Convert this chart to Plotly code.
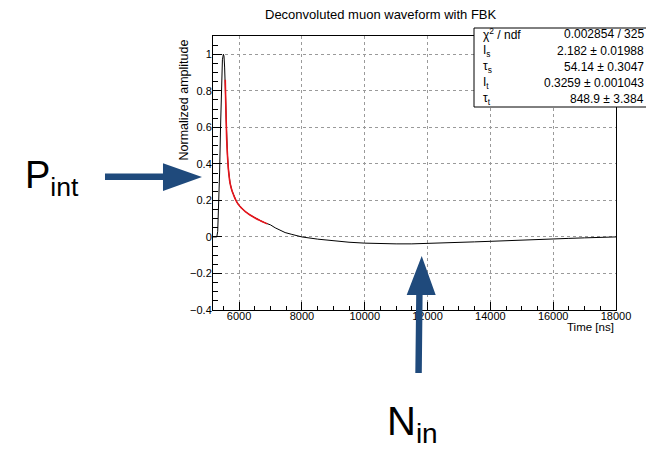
import plotly.graph_objects as go

# ---------------- data ----------------
time_ns = [5170, 5290, 5320, 5350, 5380, 5410, 5440, 5470, 5500, 5520, 5540, 5560,
           5575, 5590, 5607, 5630, 5661, 5712, 5770, 5820, 5900, 5980, 6080, 6190,
           6350, 6509, 6680, 6828, 7000, 7150, 7260, 7465, 7680, 8000, 8500, 9000,
           9500, 10000, 10500, 11000, 11500, 12000, 12500, 13000, 13500, 14000,
           14500, 15000, 15500, 16000, 16500, 17000, 17500, 18000]
amplitude = [0.0, 0.0, 0.03, 0.15, 0.35, 0.60, 0.85, 0.97, 1.0, 0.99, 0.93, 0.86,
             0.74, 0.64, 0.53, 0.45, 0.37, 0.296, 0.255, 0.232, 0.200, 0.177, 0.158, 0.140,
             0.120, 0.104, 0.089, 0.077, 0.066, 0.050, 0.040, 0.024, 0.014, 0.0, -0.012, -0.022,
             -0.029, -0.034, -0.037, -0.038, -0.038, -0.036, -0.033, -0.030, -0.027, -0.024,
             -0.020, -0.017, -0.014, -0.011, -0.008, -0.005, -0.003, 0.0]

fit_time = [5560, 5575, 5590, 5607, 5630, 5661, 5712, 5770, 5820, 5900, 5980, 6080,
            6190, 6350, 6509, 6680, 6828, 6900]
fit_amp = [0.86, 0.74, 0.64, 0.53, 0.45, 0.37, 0.296, 0.255, 0.232, 0.200, 0.177, 0.158,
           0.140, 0.120, 0.104, 0.089, 0.077, 0.072]

title_text = "Deconvoluted muon waveform with FBK"
x_title = "Time [ns]"
y_title = "Normalized amplitude"
stat_labels = ["χ<sup>2</sup> / ndf", "I<sub>s</sub>", "τ<sub>s</sub>", "I<sub>t</sub>", "τ<sub>t</sub>"]
stat_values = ["0.002854 / 325", "2.182 ± 0.01988", "54.14 ± 0.3047",
               "0.3259 ± 0.001043", "848.9 ± 3.384"]

# ---------------- layout geometry ----------------
# the page body has an 8px default margin, so the figure is shrunk by 8px
OFF = 8
W, H = 654 - OFF, 449 - OFF
L, R, T, B = 213 - OFF, 38, 36 - OFF, 139
PW, PH = W - L - R, H - T - B
X0, Y0 = 213, 310  # screen position of plot-area bottom-left


def px(x):
    return (x - X0) / PW


def py(y):
    return (Y0 - y) / PH


FONT = "Liberation Sans, Arial, Helvetica, sans-serif"
NAVY = "#1f4a7c"

fig = go.Figure()
fig.add_trace(go.Scatter(x=time_ns, y=amplitude, mode="lines",
                         line=dict(color="black", width=1), showlegend=False))
fig.add_trace(go.Scatter(x=fit_time, y=fit_amp, mode="lines", line_shape="spline",
                         line=dict(color="#e8141b", width=1.6), showlegend=False))

axis_common = dict(showline=True, linecolor="black", linewidth=1, mirror=True,
                   ticks="inside", tickcolor="black", showgrid=True,
                   gridcolor="#9a9a9a", griddash="dot", gridwidth=1, zeroline=False,
                   tickfont=dict(family=FONT, size=11, color="black"))

fig.update_xaxes(range=[5170, 18000], tick0=0, dtick=2000, ticklen=8, tickformat="d",
                 ticklabelstandoff=-4,
                 minor=dict(dtick=500, ticks="inside", ticklen=4, tickcolor="black",
                            showgrid=False), **axis_common)
fig.update_yaxes(range=[-0.4, 1.1], tick0=0, dtick=0.2, ticklen=9,
                 ticklabelstandoff=-2,
                 minor=dict(dtick=0.05, ticks="inside", ticklen=5, tickcolor="black",
                            showgrid=False), **axis_common)

shapes = []
# stats box
shapes.append(dict(type="rect", xref="paper", yref="paper", x0=px(474), x1=px(653.5),
                   y0=py(107), y1=py(28), fillcolor="white",
                   line=dict(color="black", width=1), layer="above"))
# horizontal arrow (P_int)
p = [(105, 173.5), (163, 173.5), (163, 163.3), (202, 177), (163, 191), (163, 180), (105, 180)]
shapes.append(dict(type="path", xref="paper", yref="paper",
                   path="M " + " L ".join(f"{px(a):.4f},{py(b):.4f}" for a, b in p) + " Z",
                   fillcolor=NAVY, line=dict(color=NAVY, width=0), layer="above"))
# vertical arrow (N_in)
p = [(415.3, 373), (421.8, 373), (422.6, 295), (435.7, 295), (421.7, 256), (406.7, 295), (416.2, 295)]
shapes.append(dict(type="path", xref="paper", yref="paper",
                   path="M " + " L ".join(f"{px(a):.4f},{py(b):.4f}" for a, b in p) + " Z",
                   fillcolor=NAVY, line=dict(color=NAVY, width=0), layer="above"))

ann = []
ann.append(dict(text=title_text, x=px(381), y=py(15), xref="paper", yref="paper",
                showarrow=False, xanchor="center", yanchor="middle",
                font=dict(family=FONT, size=13, color="black")))
ann.append(dict(text=y_title, x=px(183.5), y=py(100), xref="paper", yref="paper",
                showarrow=False, textangle=-90, xanchor="center", yanchor="middle",
                font=dict(family=FONT, size=12.5, color="black")))
ann.append(dict(text=x_title, x=px(616), y=py(327), xref="paper", yref="paper",
                showarrow=False, xanchor="right", yanchor="middle",
                font=dict(family=FONT, size=11.5, color="black")))
rows = [34, 51, 67, 83, 99]
for lab, val, r in zip(stat_labels, stat_values, rows):
    ann.append(dict(text=lab, x=px(481), y=py(r), xref="paper", yref="paper",
                    showarrow=False, xanchor="left", yanchor="middle",
                    font=dict(family=FONT, size=12, color="black")))
    ann.append(dict(text=val, x=px(646), y=py(r), xref="paper", yref="paper",
                    showarrow=False, xanchor="right", yanchor="middle",
                    font=dict(family=FONT, size=12, color="black")))
ann.append(dict(text="P<sub>int</sub>", x=px(23), y=py(178), xref="paper", yref="paper",
                showarrow=False, xanchor="left", yanchor="middle",
                font=dict(family=FONT, size=38, color="black")))
ann.append(dict(text="N<sub>in</sub>", x=px(385), y=py(424), xref="paper", yref="paper",
                showarrow=False, xanchor="left", yanchor="middle",
                font=dict(family=FONT, size=40, color="black")))

fig.update_layout(width=W, height=H, margin=dict(l=L, r=R, t=T, b=B),
                  paper_bgcolor="white", plot_bgcolor="white",
                  shapes=shapes, annotations=ann, showlegend=False)

fig.write_html("out.html")
